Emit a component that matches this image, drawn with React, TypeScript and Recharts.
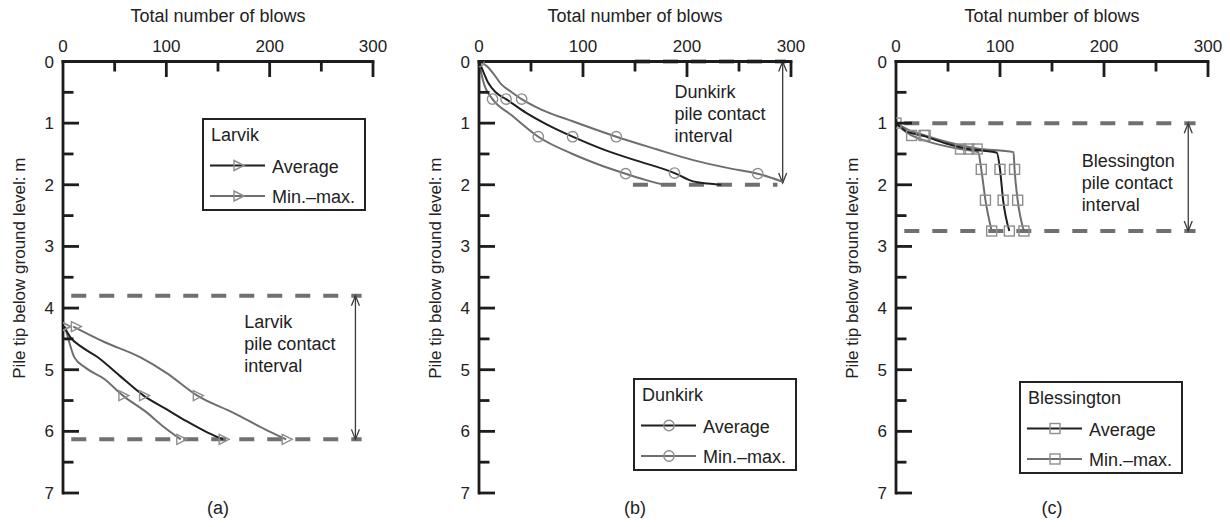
import React from 'react';
import {
  ComposedChart,
  Line,
  Scatter,
  XAxis,
  YAxis,
  ReferenceLine,
  ReferenceDot,
  Legend,
  Label,
} from 'recharts';

type Pt = { blows: number; depth: number };

// ---------- shared axis data ----------
const xTicks = [0, 50, 100, 150, 200, 250, 300];
const yTicks = [0, 0.5, 1, 1.5, 2, 2.5, 3, 3.5, 4, 4.5, 5, 5.5, 6, 6.5, 7];
const xTitle = 'Total number of blows';
const yTitle = 'Pile tip below ground level: m';
const legendLabels = ['Average', 'Min.–max.'];

// ---------- (a) Larvik ----------
const larvikAvg: Pt[] = [
  { blows: 1, depth: 4.3 }, { blows: 7, depth: 4.47 }, { blows: 18, depth: 4.63 },
  { blows: 33, depth: 4.79 }, { blows: 55, depth: 5.1 }, { blows: 78, depth: 5.42 },
  { blows: 100, depth: 5.64 }, { blows: 120, depth: 5.84 }, { blows: 140, depth: 6.02 },
  { blows: 155, depth: 6.13 },
];
const larvikMin: Pt[] = [
  { blows: 2, depth: 4.3 }, { blows: 6, depth: 4.55 }, { blows: 11, depth: 4.8 },
  { blows: 22, depth: 4.97 }, { blows: 40, depth: 5.15 }, { blows: 58, depth: 5.42 },
  { blows: 80, depth: 5.68 }, { blows: 97, depth: 5.92 }, { blows: 114, depth: 6.13 },
];
const larvikMax: Pt[] = [
  { blows: 10, depth: 4.3 }, { blows: 40, depth: 4.55 }, { blows: 75, depth: 4.8 },
  { blows: 100, depth: 5.05 }, { blows: 130, depth: 5.42 }, { blows: 165, depth: 5.7 },
  { blows: 197, depth: 5.98 }, { blows: 216, depth: 6.13 },
];
const larvikAvgMarks: Pt[] = [{ blows: 1, depth: 4.3 }, { blows: 78, depth: 5.42 }, { blows: 155, depth: 6.13 }];
const larvikMinMarks: Pt[] = [{ blows: 2, depth: 4.3 }, { blows: 58, depth: 5.42 }, { blows: 114, depth: 6.13 }];
const larvikMaxMarks: Pt[] = [{ blows: 12, depth: 4.3 }, { blows: 130, depth: 5.42 }, { blows: 216, depth: 6.13 }];
const larvikInterval = [3.8, 6.13];
const larvikNote = ['Larvik', 'pile contact', 'interval'];

// ---------- (b) Dunkirk ----------
const dunkirkAvg: Pt[] = [
  { blows: 0, depth: 0 }, { blows: 3, depth: 0.12 }, { blows: 9, depth: 0.35 },
  { blows: 16, depth: 0.5 }, { blows: 26, depth: 0.61 }, { blows: 45, depth: 0.83 },
  { blows: 65, depth: 1.02 }, { blows: 90, depth: 1.22 }, { blows: 120, depth: 1.43 },
  { blows: 150, depth: 1.6 }, { blows: 188, depth: 1.81 }, { blows: 205, depth: 1.94 },
  { blows: 220, depth: 1.98 }, { blows: 233, depth: 2.0 },
];
const dunkirkMin: Pt[] = [
  { blows: 0, depth: 0 }, { blows: 3, depth: 0.25 }, { blows: 6, depth: 0.42 },
  { blows: 13, depth: 0.61 }, { blows: 32, depth: 0.88 }, { blows: 57, depth: 1.22 },
  { blows: 90, depth: 1.5 }, { blows: 115, depth: 1.67 }, { blows: 141, depth: 1.82 },
  { blows: 160, depth: 1.92 }, { blows: 178, depth: 2.0 },
];
const dunkirkMax: Pt[] = [
  { blows: 0, depth: 0 }, { blows: 8, depth: 0.08 }, { blows: 14, depth: 0.2 },
  { blows: 22, depth: 0.38 }, { blows: 30, depth: 0.48 }, { blows: 41, depth: 0.61 },
  { blows: 60, depth: 0.78 }, { blows: 90, depth: 0.97 }, { blows: 132, depth: 1.22 },
  { blows: 170, depth: 1.42 }, { blows: 206, depth: 1.6 }, { blows: 240, depth: 1.73 },
  { blows: 268, depth: 1.82 }, { blows: 292, depth: 1.95 },
];
const dunkirkAvgMarks: Pt[] = [{ blows: 0, depth: 0 }, { blows: 26, depth: 0.61 }, { blows: 90, depth: 1.22 }, { blows: 188, depth: 1.81 }];
const dunkirkMinMarks: Pt[] = [{ blows: 13, depth: 0.61 }, { blows: 57, depth: 1.22 }, { blows: 141, depth: 1.82 }];
const dunkirkMaxMarks: Pt[] = [{ blows: 41, depth: 0.61 }, { blows: 132, depth: 1.22 }, { blows: 268, depth: 1.82 }];
const dunkirkInterval = [0, 1.97];
const dunkirkNote = ['Dunkirk', 'pile contact', 'interval'];

// ---------- (c) Blessington ----------
const blessAvg: Pt[] = [
  { blows: 0, depth: 1.0 }, { blows: 10, depth: 1.13 }, { blows: 27, depth: 1.21 },
  { blows: 48, depth: 1.33 }, { blows: 70, depth: 1.42 }, { blows: 97, depth: 1.48 },
  { blows: 100, depth: 1.75 }, { blows: 103, depth: 2.25 }, { blows: 109, depth: 2.75 },
];
const blessMin: Pt[] = [
  { blows: 0, depth: 1.0 }, { blows: 6, depth: 1.1 }, { blows: 15, depth: 1.2 },
  { blows: 35, depth: 1.32 }, { blows: 62, depth: 1.42 }, { blows: 79, depth: 1.47 },
  { blows: 82, depth: 1.75 }, { blows: 86, depth: 2.25 }, { blows: 92, depth: 2.75 },
];
const blessMax: Pt[] = [
  { blows: 0, depth: 1.0 }, { blows: 12, depth: 1.11 }, { blows: 28, depth: 1.2 },
  { blows: 50, depth: 1.31 }, { blows: 78, depth: 1.41 }, { blows: 113, depth: 1.47 },
  { blows: 114, depth: 1.75 }, { blows: 117, depth: 2.25 }, { blows: 123, depth: 2.75 },
];
const blessAvgMarks: Pt[] = [{ blows: 0, depth: 1.0 }, { blows: 27, depth: 1.2 }, { blows: 70, depth: 1.42 }, { blows: 100, depth: 1.75 }, { blows: 103, depth: 2.25 }, { blows: 109, depth: 2.75 }];
const blessMinMarks: Pt[] = [{ blows: 15, depth: 1.2 }, { blows: 62, depth: 1.42 }, { blows: 82, depth: 1.75 }, { blows: 86, depth: 2.25 }, { blows: 92, depth: 2.75 }];
const blessMaxMarks: Pt[] = [{ blows: 28, depth: 1.2 }, { blows: 78, depth: 1.42 }, { blows: 114, depth: 1.75 }, { blows: 117, depth: 2.25 }, { blows: 123, depth: 2.75 }];
const blessInterval = [1.0, 2.75];
const blessNote = ['Blessington', 'pile contact', 'interval'];

// ---------- styling ----------
const FONT = '"Liberation Sans", Arial, Helvetica, sans-serif';
const AXIS = '#1c1c1c';
const TEXT = '#222';
const AVG = '#1f1f1f';
const MINMAX = '#6e6e6e';
const MARK = '#8e8e8e';
const DASH = '#707070';
const CHART_W = 410;
const CHART_H = 527;
const X_H = 36;
const Y_W = 40;

type Kind = 'triangle' | 'circle' | 'square';

function Marker({ kind, cx, cy }: { kind: Kind; cx: number; cy: number }) {
  const common = { fill: 'none', stroke: MARK, strokeWidth: 1.4 };
  if (kind === 'triangle') {
    return <polygon points={`${cx - 4},${cy - 5} ${cx + 6},${cy} ${cx - 4},${cy + 5}`} {...common} />;
  }
  if (kind === 'circle') return <circle cx={cx} cy={cy} r={5.2} {...common} />;
  return <rect x={cx - 5} y={cy - 5} width={10} height={10} {...common} />;
}

const renderXTick = (props: any) => {
  const { x, y, payload } = props;
  const v = payload.value as number;
  const major = v % 100 === 0;
  return (
    <g>
      {v !== 0 && (
        <line x1={x} x2={x} y1={y} y2={y + (major ? 15.5 : 10)} stroke={AXIS} strokeWidth={2.8} />
      )}
      {major && (
        <text x={x} y={y - 9.3} textAnchor="middle" fontSize={17} fill={TEXT} fontFamily={FONT}>
          {v}
        </text>
      )}
    </g>
  );
};

const renderYTick = (props: any) => {
  const { x, y, payload } = props;
  const v = payload.value as number;
  const major = Number.isInteger(v);
  return (
    <g>
      {v !== 0 && (
        <line x1={x} x2={x + (major ? 16 : 10.5)} y1={y} y2={y} stroke={AXIS} strokeWidth={2.8} />
      )}
      {major && (
        <text x={x - 9} y={y + 6} textAnchor="end" fontSize={17} fill={TEXT} fontFamily={FONT}>
          {v}
        </text>
      )}
    </g>
  );
};

const ArrowShape = (props: any) => {
  const { x1, y1, x2, y2 } = props;
  const c = '#3a3a3a';
  return (
    <g>
      <line x1={x1} y1={y1} x2={x2} y2={y2} stroke={c} strokeWidth={1.3} />
      <polyline points={`${x1 - 4},${y1 + 10} ${x1},${y1} ${x1 + 4},${y1 + 10}`} fill="none" stroke={c} strokeWidth={1.3} />
      <polyline points={`${x2 - 4},${y2 - 10} ${x2},${y2} ${x2 + 4},${y2 - 10}`} fill="none" stroke={c} strokeWidth={1.3} />
    </g>
  );
};

type Panel = {
  tag: string;
  site: string;
  kind: Kind;
  avg: Pt[];
  min: Pt[];
  max: Pt[];
  avgMarks: Pt[];
  minMarks: Pt[];
  maxMarks: Pt[];
  interval: number[];
  note: string[];
  left: number;
  margin: { top: number; right: number; bottom: number; left: number };
  dashes: { y: number; from: number; to: number }[];
  arrowX: number;
  noteX: number;
  noteY: number;
  legendPos: { left: number; top: number };
};

const panels: Panel[] = [
  {
    tag: '(a)', site: 'Larvik', kind: 'triangle',
    avg: larvikAvg, min: larvikMin, max: larvikMax,
    avgMarks: larvikAvgMarks, minMarks: larvikMinMarks, maxMarks: larvikMaxMarks,
    interval: larvikInterval, note: larvikNote,
    left: 0,
    margin: { top: 25.5, right: 37, bottom: 34, left: 23 },
    dashes: [
      { y: larvikInterval[0], from: 8, to: 289 },
      { y: larvikInterval[1], from: 8, to: 289 },
    ],
    arrowX: 283, noteX: 175.5, noteY: 4.33,
    legendPos: { left: 202, top: 118 },
  },
  {
    tag: '(b)', site: 'Dunkirk', kind: 'circle',
    avg: dunkirkAvg, min: dunkirkMin, max: dunkirkMax,
    avgMarks: dunkirkAvgMarks, minMarks: dunkirkMinMarks, maxMarks: dunkirkMaxMarks,
    interval: dunkirkInterval, note: dunkirkNote,
    left: 410,
    margin: { top: 25.5, right: 29, bottom: 34, left: 29 },
    dashes: [
      { y: 0, from: 150, to: 295 },
      { y: 2.0, from: 148, to: 287 },
    ],
    arrowX: 292, noteX: 188, noteY: 0.6,
    legendPos: { left: 223, top: 378 },
  },
  {
    tag: '(c)', site: 'Blessington', kind: 'square',
    avg: blessAvg, min: blessMin, max: blessMax,
    avgMarks: blessAvgMarks, minMarks: blessMinMarks, maxMarks: blessMaxMarks,
    interval: blessInterval, note: blessNote,
    left: 820,
    margin: { top: 25.5, right: 22, bottom: 34, left: 36 },
    dashes: [
      { y: blessInterval[0], from: 8, to: 288 },
      { y: blessInterval[1], from: 8, to: 288 },
    ],
    arrowX: 281, noteX: 178.5, noteY: 1.71,
    legendPos: { left: 199, top: 381 },
  },
];

function LegendBox({ title, kind }: { title: string; kind: Kind }) {
  const rows = [AVG, MINMAX];
  return (
    <svg width={164} height={93} style={{ display: 'block' }}>
      <rect x={1} y={1} width={162} height={91} fill="#fff" stroke="#222" strokeWidth={2} />
      <text x={9} y={22.5} fontSize={18} fill={TEXT} fontFamily={FONT}>{title}</text>
      {legendLabels.map((lab, i) => {
        const cy = 47.5 + i * 30.5;
        return (
          <g key={lab}>
            <line x1={8} x2={63} y1={cy} y2={cy} stroke={rows[i]} strokeWidth={2} />
            <Marker kind={kind} cx={36} cy={cy} />
            <text x={70} y={cy + 7} fontSize={18} fill={TEXT} fontFamily={FONT}>{lab}</text>
          </g>
        );
      })}
    </svg>
  );
}

function PanelChart({ p }: { p: Panel }) {
  const plotLeft = p.margin.left + Y_W;
  const plotTop = p.margin.top + X_H;
  const plotW = CHART_W - plotLeft - p.margin.right;
  const plotH = CHART_H - plotTop - p.margin.bottom;
  const axisLine = { stroke: AXIS, strokeWidth: 2.8, strokeLinecap: 'square' as const };

  const xLabel = () => (
    <g>
      <text x={plotLeft + plotW / 2} y={plotTop - 39.5} textAnchor="middle" fontSize={18} fill={TEXT} fontFamily={FONT}>
        {xTitle}
      </text>
      <text x={plotLeft + plotW / 2} y={plotTop + plotH + 21} textAnchor="middle" fontSize={18} fill={TEXT} fontFamily={FONT}>
        {p.tag}
      </text>
    </g>
  );
  const yLabel = () => {
    const cx = plotLeft - 44;
    const cy = plotTop + plotH / 2 - 9;
    return (
      <text
        x={cx}
        y={cy}
        transform={`rotate(-90, ${cx}, ${cy})`}
        textAnchor="middle"
        dy="0.35em"
        fontSize={17}
        fill={TEXT}
        fontFamily={FONT}
      >
        {yTitle}
      </text>
    );
  };
  const noteShape = (props: any) => (
    <g>
      {p.note.map((t, i) => (
        <text key={t} x={props.cx} y={props.cy + i * 21.8} fontSize={18} fill={TEXT} fontFamily={FONT}>
          {t}
        </text>
      ))}
    </g>
  );
  const markShape = (props: any) => <Marker kind={p.kind} cx={props.cx} cy={props.cy} />;

  return (
    <div style={{ position: 'absolute', left: p.left, top: 0 }}>
      <ComposedChart width={CHART_W} height={CHART_H} margin={p.margin}>
        <XAxis
          type="number"
          dataKey="blows"
          orientation="top"
          domain={[0, 300]}
          ticks={xTicks}
          interval={0}
          height={X_H}
          tickSize={0}
          tickMargin={0}
          tickLine={false}
          axisLine={axisLine}
          tick={renderXTick}
          allowDataOverflow
          label={<Label content={xLabel} />}
        />
        <YAxis
          type="number"
          dataKey="depth"
          reversed
          domain={[0, 7]}
          ticks={yTicks}
          interval={0}
          width={Y_W}
          tickSize={0}
          tickMargin={0}
          tickLine={false}
          axisLine={axisLine}
          tick={renderYTick}
          allowDataOverflow
          label={<Label content={yLabel} />}
        />
        {p.dashes.map((d, i) => (
          <ReferenceLine
            key={`d${i}`}
            segment={[{ x: d.from, y: d.y }, { x: d.to, y: d.y }]}
            stroke={DASH}
            strokeWidth={4}
            strokeDasharray="15 13"
            ifOverflow="visible"
          />
        ))}
        <ReferenceLine
          segment={[{ x: p.arrowX, y: p.interval[0] }, { x: p.arrowX, y: p.interval[1] }]}
          shape={ArrowShape}
          ifOverflow="visible"
        />
        <ReferenceDot x={p.noteX} y={p.noteY} r={0} shape={noteShape} ifOverflow="visible" />
        <Line data={p.min} dataKey="depth" type="monotone" stroke={MINMAX} strokeWidth={2} dot={false} activeDot={false} isAnimationActive={false} legendType="none" />
        <Line data={p.max} dataKey="depth" type="monotone" stroke={MINMAX} strokeWidth={2} dot={false} activeDot={false} isAnimationActive={false} legendType="none" />
        <Line data={p.avg} dataKey="depth" type="monotone" stroke={AVG} strokeWidth={2} dot={false} activeDot={false} isAnimationActive={false} legendType="none" />
        <Scatter data={p.minMarks} shape={markShape} isAnimationActive={false} legendType="none" />
        <Scatter data={p.maxMarks} shape={markShape} isAnimationActive={false} legendType="none" />
        <Scatter data={p.avgMarks} shape={markShape} isAnimationActive={false} legendType="none" />
        <Legend
          layout="horizontal"
          verticalAlign="middle"
          align="center"
          content={() => <LegendBox title={p.site} kind={p.kind} />}
          wrapperStyle={{ left: p.legendPos.left, top: p.legendPos.top, width: 164, height: 93, margin: 0, padding: 0 }}
        />
      </ComposedChart>
    </div>
  );
}

export default function App() {
  return (
    <div
      style={{
        position: 'absolute',
        left: 0,
        top: 0,
        width: 1230,
        height: 527,
        background: '#fff',
        overflow: 'hidden',
        fontFamily: FONT,
      }}
    >
      {panels.map((p) => (
        <PanelChart key={p.tag} p={p} />
      ))}
    </div>
  );
}
